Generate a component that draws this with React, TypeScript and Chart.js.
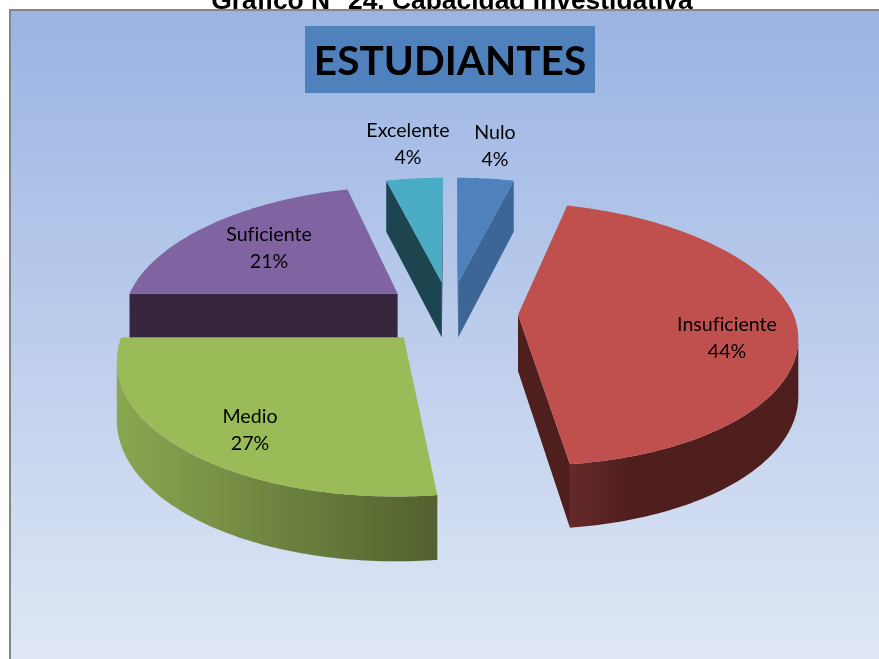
import React, { useEffect, useRef } from "react";
import { Chart, registerables } from "chart.js";

Chart.register(...registerables);

const categories = ["Nulo", "Insuficiente", "Medio", "Suficiente", "Excelente"];
const percentages = [4, 44, 27, 21, 4];
const topColors = ["#4f81bd", "#c0504d", "#9bbb59", "#8064a2", "#4bacc6"];
const sideColors = ["#3c6695", "#4f1f1d", "#52612f", "#36273f", "#1d4550"];
const wallStartColors = ["#3c6695", "#65292a", "#8ba650", "#36273f", "#1d4550"];
const drawOrder = [4, 0, 3, 1, 2];
const labelCentres = [
  [495, 147],
  [727, 339],
  [250, 431],
  [269, 249],
  [408, 145],
];
const chartTitle = "ESTUDIANTES";
const pageTitle = "Gráfico N° 24. Capacidad Investigativa";

const EXPLODE = 68;
const TILT = 0.466;
const PERSPECTIVE = 0.00053;
const PERSPECTIVE_BACK_X = 0.00062;

const pie3d = {
  id: "pie3d",
  beforeDraw(chart: any) {
    const { ctx, width, height } = chart;
    ctx.save();
    ctx.fillStyle = "#ffffff";
    ctx.fillRect(0, 0, width, height);
    ctx.fillStyle = "#000000";
    ctx.font = "bold 26.4px 'Liberation Sans'";
    ctx.textAlign = "center";
    ctx.textBaseline = "alphabetic";
    ctx.fillText(pageTitle, 452, 9);
    const g = ctx.createLinearGradient(0, 10, 0, height);
    g.addColorStop(0, "#9bb4e3");
    g.addColorStop(0.5, "#bccdec");
    g.addColorStop(1, "#dfe7f5");
    ctx.fillStyle = g;
    ctx.fillRect(10, 10, width - 10, height - 10);
    ctx.fillStyle = "#868686";
    ctx.fillRect(9, 9, width - 9, 2);
    ctx.fillRect(9, 9, 2, height - 9);
    ctx.fillStyle = "#4f81bd";
    ctx.fillRect(305, 26, 290, 67);
    ctx.restore();
  },
  beforeDatasetsDraw(chart: any) {
    const { ctx } = chart;
    const arcs = chart.getDatasetMeta(0).data;
    const project = (arc: any, angle: number, r: number) => {
      const mid = (arc.startAngle + arc.endAngle) / 2;
      const u = Math.cos(angle) * r + Math.cos(mid) * EXPLODE;
      const v = Math.sin(angle) * r + Math.sin(mid) * EXPLODE;
      const s = 1 / (1 - v * PERSPECTIVE);
      const sx = v < 0 ? 1 / (1 - v * PERSPECTIVE_BACK_X) : s;
      const d = 56 + (v > 0 ? 0.027 : 0.015) * v;
      return { x: arc.x + u * sx, y: arc.y + v * TILT * s, d };
    };
    drawOrder.forEach((i) => {
      const arc = arcs[i];
      const R = arc.outerRadius;
      const tip = project(arc, arc.startAngle, 0);
      const rim: any[] = [];
      const steps = Math.max(6, Math.round((arc.endAngle - arc.startAngle) * 60));
      for (let k = 0; k <= steps; k++) {
        rim.push(project(arc, arc.startAngle + ((arc.endAngle - arc.startAngle) * k) / steps, R));
      }
      const fillPath = (top: any[], fill: any) => {
        ctx.beginPath();
        top.forEach((p, n) => (n ? ctx.lineTo(p.x, p.y) : ctx.moveTo(p.x, p.y)));
        [...top].reverse().forEach((p) => ctx.lineTo(p.x, p.y + p.d));
        ctx.closePath();
        ctx.fillStyle = fill;
        ctx.fill();
      };
      ctx.save();
      if (rim[0].x < tip.x) fillPath([tip, rim[0]], sideColors[i]);
      if (tip.x < rim[rim.length - 1].x) fillPath([rim[rim.length - 1], tip], sideColors[i]);
      const front = rim.filter((p, k) => {
        const next = rim[k + 1];
        const prev = rim[k - 1];
        return (next && next.x < p.x) || (prev && p.x < prev.x);
      });
      if (front.length > 1) {
        const xs = rim.map((p) => p.x);
        const minX = Math.min(...xs);
        const maxX = Math.max(...xs);
        let wall: any = sideColors[i];
        if (i === 1) {
          const frontX = rim[rim.length - 1].x;
          wall = ctx.createLinearGradient(frontX, 0, frontX + 60, 0);
          wall.addColorStop(0, wallStartColors[i]);
          wall.addColorStop(1, sideColors[i]);
        } else if (i === 2) {
          wall = ctx.createLinearGradient(minX, 0, maxX, 0);
          wall.addColorStop(0, wallStartColors[i]);
          wall.addColorStop(1, sideColors[i]);
        }
        fillPath(front, wall);
      }
      ctx.beginPath();
      ctx.moveTo(tip.x, tip.y);
      rim.forEach((p) => ctx.lineTo(p.x, p.y));
      ctx.closePath();
      ctx.fillStyle = arc.options.backgroundColor;
      ctx.fill();
      ctx.restore();
    });
    ctx.save();
    ctx.fillStyle = "#000000";
    ctx.font = "19.6px Lato";
    (ctx as any).letterSpacing = "0.01px";
    ctx.textAlign = "center";
    ctx.textBaseline = "middle";
    categories.forEach((name, i) => {
      const [x, y] = labelCentres[i];
      ctx.fillText(name, x, y - 14);
      ctx.fillText(percentages[i] + "%", x, y + 13);
    });
    ctx.restore();
    return false;
  },
};

export default function App() {
  const ref = useRef<HTMLCanvasElement>(null);
  useEffect(() => {
    const chart = new Chart(ref.current as HTMLCanvasElement, {
      type: "pie",
      data: {
        labels: categories,
        datasets: [{ data: percentages, backgroundColor: topColors, borderWidth: 0, radius: 275 }],
      },
      options: {
        animation: false,
        responsive: false,
        layout: { padding: { left: 21, bottom: 128 } },
        plugins: {
          legend: { display: false },
          tooltip: { enabled: false },
          title: {
            display: true,
            text: chartTitle,
            color: "#000000",
            font: { family: "Lato", size: 40.6, weight: "bold", lineHeight: 1.2 },
            padding: { top: 38, bottom: 8 },
          },
        },
      },
      plugins: [pie3d],
    } as any);
    return () => chart.destroy();
  }, []);
  return (
    <div style={{ position: "fixed", left: 0, top: 0, width: 879, height: 659, overflow: "hidden" }}>
      <canvas ref={ref} width={879} height={659} style={{ display: "block" }} />
    </div>
  );
}
